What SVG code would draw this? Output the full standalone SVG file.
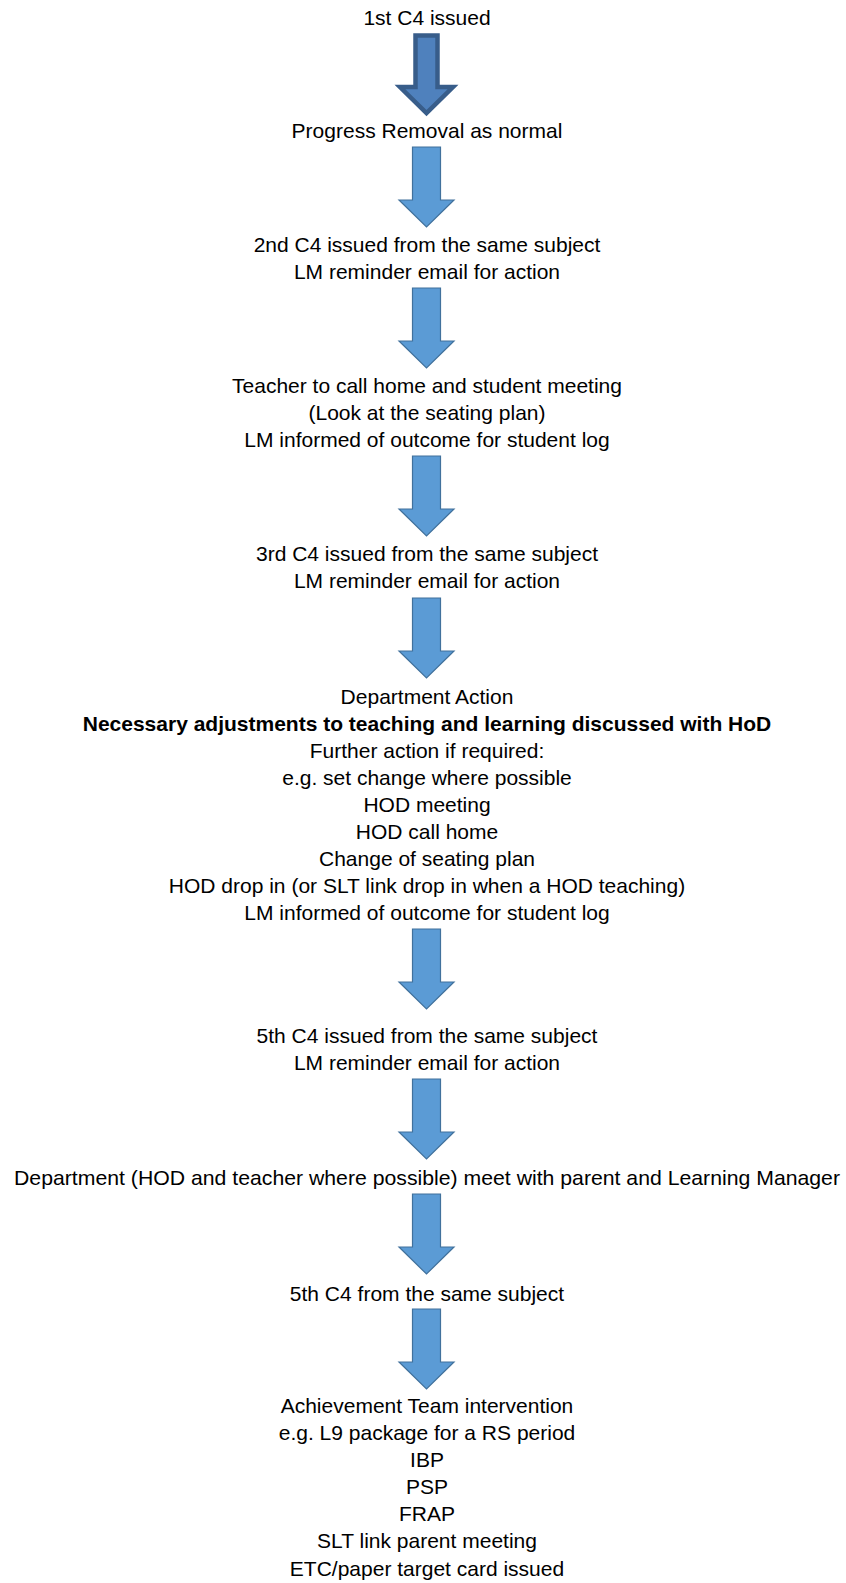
<svg xmlns="http://www.w3.org/2000/svg" width="846" height="1583" viewBox="0 0 846 1583">
<defs>
<style>
text{font-family:"Liberation Sans",Arial,sans-serif;font-size:21px;fill:#000;text-anchor:middle}
.b{font-weight:bold}
.arr{fill:#5b9bd5;stroke:#41719c;stroke-width:1.2;stroke-linejoin:miter}
.arr1{fill:#4f81bd;stroke:#385d8a;stroke-width:4.5;stroke-linejoin:miter}
</style>
<path id="a" d="M-14,0 L14,0 L14,53 L27.5,53 L0,80 L-27.5,53 L-14,53 Z"/>
</defs>
<rect width="846" height="1583" fill="#fff"/>
<g id="connectors">
<path class="arr1" d="M415.5,35.5 L437.5,35.5 L437.5,87 L453,87 L426.5,113 L400,87 L415.5,87 Z"/>
<use href="#a" class="arr" x="426.5" y="147"/>
<use href="#a" class="arr" x="426.5" y="288"/>
<use href="#a" class="arr" x="426.5" y="456"/>
<use href="#a" class="arr" x="426.5" y="598"/>
<use href="#a" class="arr" x="426.5" y="929"/>
<use href="#a" class="arr" x="426.5" y="1079"/>
<use href="#a" class="arr" x="426.5" y="1194"/>
<use href="#a" class="arr" x="426.5" y="1309"/>
</g>
<g id="n1"><text x="427" y="25">1st C4 issued</text></g>
<g id="n2"><text x="427" y="138">Progress Removal as normal</text></g>
<g id="n3"><text x="427" y="252">2nd C4 issued from the same subject</text><text x="427" y="279">LM reminder email for action</text></g>
<g id="n4"><text x="427" y="393">Teacher to call home and student meeting</text><text x="427" y="420">(Look at the seating plan)</text><text x="427" y="447">LM informed of outcome for student log</text></g>
<g id="n5"><text x="427" y="561">3rd C4 issued from the same subject</text><text x="427" y="588">LM reminder email for action</text></g>
<g id="n6">
<text x="427" y="704">Department Action</text>
<text x="427" y="731" class="b">Necessary adjustments to teaching and learning discussed with HoD</text>
<text x="427" y="758">Further action if required:</text>
<text x="427" y="785">e.g. set change where possible</text>
<text x="427" y="812">HOD meeting</text>
<text x="427" y="839">HOD call home</text>
<text x="427" y="866">Change of seating plan</text>
<text x="427" y="893">HOD drop in (or SLT link drop in when a HOD teaching)</text>
<text x="427" y="920">LM informed of outcome for student log</text>
</g>
<g id="n7"><text x="427" y="1043">5th C4 issued from the same subject</text><text x="427" y="1070">LM reminder email for action</text></g>
<g id="n8"><text x="427" y="1185" textLength="826" lengthAdjust="spacingAndGlyphs">Department (HOD and teacher where possible) meet with parent and Learning Manager</text></g>
<g id="n9"><text x="427" y="1301">5th C4 from the same subject</text></g>
<g id="n10">
<text x="427" y="1413">Achievement Team intervention</text>
<text x="427" y="1440">e.g. L9 package for a RS period</text>
<text x="427" y="1467">IBP</text>
<text x="427" y="1494">PSP</text>
<text x="427" y="1521">FRAP</text>
<text x="427" y="1548">SLT link parent meeting</text>
<text x="427" y="1576">ETC/paper target card issued</text>
</g>
</svg>
